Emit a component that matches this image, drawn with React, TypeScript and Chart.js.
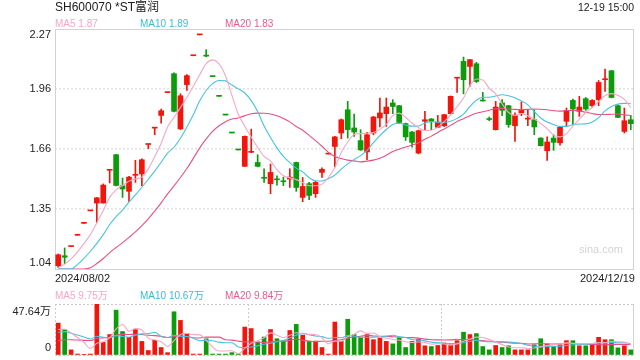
import React, { useEffect, useRef } from "react";
import { Chart, registerables } from "chart.js";

Chart.register(...registerables);

const FONT = "Arial, 'Liberation Sans', 'Noto Sans CJK SC', sans-serif";
const RED = "#f3150b";
const GREEN = "#0b9b0b";
const MA5_COLOR = "#f8a6c6";
const MA10_COLOR = "#45c3e0";
const MA20_COLOR = "#ea4f84";

const stockTitle = "SH600070 *ST富润";
const timeLabel = "12-19 15:00";

const categories = [
  "2024/08/02", "2024/08/05", "2024/08/06", "2024/08/07", "2024/08/08", "2024/08/09",
  "2024/08/12", "2024/08/13", "2024/08/14", "2024/08/15", "2024/08/16",
  "2024/08/19", "2024/08/20", "2024/08/21", "2024/08/22", "2024/08/23",
  "2024/08/26", "2024/08/27", "2024/08/28", "2024/08/29", "2024/08/30",
  "2024/09/02", "2024/09/03", "2024/09/04", "2024/09/05", "2024/09/06",
  "2024/09/09", "2024/09/10", "2024/09/11", "2024/09/12", "2024/09/13",
  "2024/09/18", "2024/09/19", "2024/09/20",
  "2024/09/23", "2024/09/24", "2024/09/25", "2024/09/26", "2024/09/27",
  "2024/09/30",
  "2024/10/11",
  "2024/10/14", "2024/10/15", "2024/10/16", "2024/10/17", "2024/10/18",
  "2024/10/21", "2024/10/22", "2024/10/23", "2024/10/24", "2024/10/25",
  "2024/10/28", "2024/10/29", "2024/10/30", "2024/10/31",
  "2024/11/01", "2024/11/04", "2024/11/05", "2024/11/06", "2024/11/07", "2024/11/08",
  "2024/11/11", "2024/11/12", "2024/11/13", "2024/11/14", "2024/11/15",
  "2024/11/18", "2024/11/19", "2024/11/20", "2024/11/21", "2024/11/22",
  "2024/11/25", "2024/11/26", "2024/11/27", "2024/11/28", "2024/11/29",
  "2024/12/02", "2024/12/03", "2024/12/04", "2024/12/05", "2024/12/06",
  "2024/12/09", "2024/12/10", "2024/12/11", "2024/12/12", "2024/12/13",
  "2024/12/16", "2024/12/17", "2024/12/18", "2024/12/19",
];

const openPrices = [
  1.057, 1.108, 1.155, 1.213, 1.274, 1.338, 1.378, 1.378, 1.546, 1.626,
  1.467, 1.438, 1.520, 1.527, 1.678, 1.762, 1.827, 1.944, 2.041, 1.758,
  1.985, 2.133, 2.240, 2.135, 2.028, 1.927, 1.831, 1.739, 1.652, 1.566,
  1.638, 1.586, 1.509, 1.477, 1.500, 1.489, 1.501, 1.586, 1.407, 1.477,
  1.426, 1.535, 1.629, 1.668, 1.737, 1.856, 1.763, 1.698, 1.640, 1.737,
  1.814, 1.836, 1.891, 1.877, 1.785, 1.742, 1.634, 1.797, 1.809, 1.766,
  1.774, 1.836, 2.018, 2.104, 2.078, 2.092, 1.903, 1.808, 1.754, 1.891,
  1.877, 1.774, 1.840, 1.808, 1.805, 1.711, 1.646, 1.711, 1.687, 1.797,
  1.904, 1.848, 1.913, 1.877, 1.908, 2.010, 2.056, 1.877, 1.745, 1.805,
];
const highPrices = [
  1.117, 1.148, 1.155, 1.213, 1.274, 1.338, 1.407, 1.476, 1.549, 1.626,
  1.506, 1.515, 1.597, 1.605, 1.680, 1.764, 1.860, 1.944, 2.045, 1.938,
  2.036, 2.133, 2.240, 2.164, 2.028, 1.927, 1.831, 1.739, 1.652, 1.722,
  1.757, 1.626, 1.554, 1.578, 1.518, 1.511, 1.554, 1.588, 1.509, 1.484,
  1.489, 1.558, 1.629, 1.720, 1.809, 1.899, 1.834, 1.754, 1.740, 1.822,
  1.916, 1.916, 1.908, 1.879, 1.788, 1.745, 1.752, 1.848, 1.811, 1.827,
  1.833, 1.927, 2.021, 2.126, 2.115, 2.099, 1.945, 1.819, 1.899, 1.908,
  1.879, 1.840, 1.896, 1.856, 1.856, 1.713, 1.717, 1.728, 1.771, 1.865,
  1.911, 1.925, 1.919, 1.908, 2.006, 2.065, 2.058, 1.882, 1.865, 1.827,
];
const lowPrices = [
  1.048, 1.067, 1.155, 1.213, 1.274, 1.338, 1.279, 1.378, 1.481, 1.466,
  1.407, 1.386, 1.484, 1.467, 1.657, 1.728, 1.788, 1.944, 1.845, 1.755,
  1.955, 2.133, 2.240, 2.128, 2.026, 1.925, 1.829, 1.737, 1.650, 1.566,
  1.636, 1.564, 1.484, 1.426, 1.469, 1.467, 1.458, 1.438, 1.385, 1.395,
  1.407, 1.509, 1.629, 1.563, 1.708, 1.711, 1.720, 1.648, 1.600, 1.728,
  1.768, 1.771, 1.836, 1.785, 1.699, 1.665, 1.630, 1.754, 1.754, 1.764,
  1.770, 1.834, 1.945, 1.938, 1.976, 1.996, 1.901, 1.800, 1.752, 1.826,
  1.766, 1.694, 1.826, 1.774, 1.728, 1.670, 1.597, 1.648, 1.675, 1.774,
  1.780, 1.822, 1.853, 1.870, 1.877, 1.950, 1.917, 1.815, 1.737, 1.754,
];
const closePrices = [
  1.113, 1.100, 1.155, 1.213, 1.274, 1.338, 1.405, 1.470, 1.549, 1.468,
  1.450, 1.511, 1.525, 1.600, 1.680, 1.764, 1.851, 1.944, 1.848, 1.928,
  2.031, 2.133, 2.240, 2.131, 2.026, 1.925, 1.829, 1.737, 1.650, 1.720,
  1.642, 1.566, 1.505, 1.535, 1.497, 1.487, 1.511, 1.458, 1.463, 1.417,
  1.484, 1.551, 1.629, 1.717, 1.805, 1.754, 1.742, 1.650, 1.728, 1.819,
  1.840, 1.870, 1.873, 1.791, 1.717, 1.689, 1.749, 1.805, 1.797, 1.793,
  1.831, 1.925, 2.021, 2.010, 2.113, 2.001, 1.901, 1.806, 1.870, 1.853,
  1.780, 1.827, 1.853, 1.810, 1.768, 1.672, 1.691, 1.689, 1.766, 1.853,
  1.860, 1.870, 1.860, 1.904, 1.996, 2.014, 1.919, 1.817, 1.800, 1.785,
];

const ma5 = [
  1.047, 1.065, 1.092, 1.128, 1.171, 1.216, 1.277, 1.340, 1.407, 1.446,
  1.468, 1.490, 1.501, 1.511, 1.553, 1.616, 1.684, 1.768, 1.817, 1.867,
  1.920, 1.977, 2.036, 2.093, 2.112, 2.091, 2.030, 1.930, 1.833, 1.772,
  1.716, 1.663, 1.617, 1.594, 1.549, 1.518, 1.507, 1.498, 1.483, 1.467,
  1.467, 1.475, 1.509, 1.560, 1.637, 1.691, 1.729, 1.734, 1.736, 1.739,
  1.756, 1.781, 1.826, 1.839, 1.818, 1.788, 1.764, 1.750, 1.751, 1.767,
  1.795, 1.830, 1.873, 1.916, 1.980, 2.014, 2.009, 1.966, 1.938, 1.886,
  1.842, 1.827, 1.837, 1.825, 1.808, 1.786, 1.759, 1.726, 1.717, 1.734,
  1.772, 1.808, 1.842, 1.869, 1.898, 1.929, 1.939, 1.930, 1.909, 1.867,
];
const ma10 = [
  1.040, 1.040, 1.040, 1.064, 1.095, 1.131, 1.171, 1.216, 1.268, 1.309,
  1.342, 1.383, 1.420, 1.459, 1.500, 1.542, 1.587, 1.634, 1.664, 1.710,
  1.768, 1.830, 1.902, 1.955, 1.990, 2.006, 2.004, 1.983, 1.963, 1.942,
  1.903, 1.847, 1.773, 1.714, 1.661, 1.617, 1.585, 1.557, 1.538, 1.508,
  1.492, 1.491, 1.503, 1.521, 1.552, 1.579, 1.602, 1.621, 1.648, 1.688,
  1.724, 1.755, 1.780, 1.787, 1.778, 1.772, 1.773, 1.788, 1.795, 1.792,
  1.792, 1.797, 1.812, 1.834, 1.873, 1.905, 1.920, 1.920, 1.927, 1.933,
  1.928, 1.918, 1.901, 1.881, 1.847, 1.814, 1.793, 1.781, 1.771, 1.771,
  1.779, 1.783, 1.784, 1.793, 1.816, 1.850, 1.873, 1.886, 1.889, 1.887,
];
const ma20 = [
  1.040, 1.040, 1.040, 1.040, 1.040, 1.046, 1.068, 1.094, 1.124, 1.150,
  1.175, 1.202, 1.230, 1.262, 1.297, 1.337, 1.379, 1.425, 1.466, 1.509,
  1.555, 1.607, 1.661, 1.707, 1.745, 1.774, 1.795, 1.809, 1.814, 1.826,
  1.836, 1.839, 1.838, 1.834, 1.825, 1.811, 1.794, 1.770, 1.751, 1.725,
  1.698, 1.669, 1.638, 1.617, 1.606, 1.598, 1.594, 1.589, 1.593, 1.598,
  1.608, 1.623, 1.642, 1.654, 1.665, 1.675, 1.687, 1.705, 1.721, 1.740,
  1.758, 1.776, 1.796, 1.810, 1.826, 1.838, 1.846, 1.854, 1.861, 1.863,
  1.860, 1.858, 1.857, 1.858, 1.860, 1.859, 1.856, 1.851, 1.849, 1.852,
  1.853, 1.851, 1.843, 1.837, 1.832, 1.832, 1.833, 1.834, 1.830, 1.827,
];

// volume in 万 (10k shares)
const volumes = [
  29.8, 23.8, 4.8, 0.9, 0.3, 0.9, 47.64, 11.8, 19.1, 41.9,
  21.9, 16.5, 23.8, 12.7, 4.2, 13.7, 7.0, 2.2, 40.4, 32.3,
  19.7, 0.9, 0.9, 15.2, 0.9, 0.9, 0.9, 2.2, 0.9, 26.1,
  24.7, 12.1, 16.8, 23.8, 15.2, 13.4, 22.9, 28.6, 18.5, 13.0,
  13.0, 7.0, 0.9, 30.8, 12.7, 33.4, 19.1, 16.5, 19.1, 14.3,
  15.9, 12.7, 10.4, 15.9, 7.0, 12.7, 14.9, 8.6, 7.9, 8.9,
  11.2, 9.5, 13.4, 21.3, 19.1, 20.0, 7.9, 4.8, 8.9, 7.0,
  8.6, 4.8, 4.8, 4.8, 9.5, 15.2, 10.4, 7.9, 9.5, 13.4,
  13.4, 8.6, 8.6, 10.1, 16.5, 14.3, 14.3, 6.7, 8.6, 4.8,
];
const volMa5 = [
  23.8, 24.1, 20.6, 16.3, 11.9, 6.1, 10.9, 12.3, 15.9, 24.3,
  28.5, 22.2, 24.6, 23.4, 15.8, 14.2, 12.3, 8.0, 13.5, 19.1,
  20.3, 19.1, 18.8, 13.8, 7.5, 3.8, 3.8, 4.0, 1.2, 6.2,
  11.0, 13.2, 16.1, 20.7, 18.5, 16.3, 18.4, 20.8, 19.7, 19.3,
  19.2, 16.0, 10.5, 12.9, 12.9, 17.0, 19.4, 22.5, 20.2, 20.5,
  17.0, 15.7, 14.5, 13.8, 12.4, 11.7, 12.2, 11.8, 10.2, 10.6,
  10.3, 9.2, 10.2, 12.9, 14.9, 16.7, 16.3, 14.6, 12.1, 9.7,
  7.4, 6.8, 6.8, 6.0, 6.5, 7.8, 8.9, 9.6, 10.5, 11.3,
  10.9, 10.6, 10.7, 10.8, 11.4, 11.6, 12.8, 12.4, 12.1, 9.75,
];
const volMa10 = [
  21.3, 21.8, 20.4, 18.6, 16.8, 15.0, 17.5, 16.5, 16.1, 18.1,
  17.3, 16.6, 18.5, 19.7, 20.0, 21.3, 17.3, 16.3, 18.4, 17.5,
  17.3, 15.7, 13.4, 13.7, 13.3, 12.0, 11.4, 11.4, 7.5, 6.9,
  7.4, 8.5, 10.1, 10.9, 12.4, 13.6, 15.8, 18.5, 20.2, 18.9,
  17.7, 17.2, 15.6, 16.3, 16.1, 18.1, 17.7, 16.5, 16.6, 16.7,
  17.0, 17.5, 18.5, 17.0, 16.4, 14.4, 13.9, 13.2, 12.0, 11.5,
  11.0, 10.7, 11.0, 11.5, 12.8, 13.5, 12.8, 12.4, 12.5, 12.3,
  12.1, 11.6, 10.7, 9.1, 8.1, 7.6, 7.9, 8.2, 8.3, 8.9,
  9.4, 9.8, 10.1, 10.7, 11.4, 11.3, 11.7, 11.5, 11.5, 10.67,
];
const volMa20 = [
  13.3, 14.2, 14.2, 14.0, 13.7, 13.5, 15.6, 16.0, 16.6, 18.5,
  19.3, 19.2, 19.4, 19.1, 18.4, 18.1, 17.4, 16.4, 17.3, 17.8,
  17.3, 16.1, 15.9, 16.7, 16.7, 16.7, 14.3, 13.9, 13.0, 12.2,
  12.3, 12.1, 11.7, 12.3, 12.8, 12.8, 13.6, 14.9, 13.8, 12.9,
  12.5, 12.9, 12.9, 13.6, 14.2, 15.8, 16.8, 17.5, 18.4, 17.8,
  17.4, 17.4, 17.1, 16.7, 16.3, 16.2, 15.8, 14.8, 14.3, 14.1,
  14.0, 14.1, 14.7, 14.3, 14.6, 13.9, 13.4, 12.8, 12.3, 11.9,
  11.5, 11.1, 10.9, 10.3, 10.4, 10.6, 10.3, 10.3, 10.4, 10.6,
  10.7, 10.7, 10.4, 9.9, 9.7, 9.5, 9.8, 9.9, 9.9, 9.84,
];

const priceTickValues = [1.04, 1.3475, 1.655, 1.9625, 2.27];
const priceTickLabels = ["1.04", "1.35", "1.66", "1.96", "2.27"];
const volumeTickValues = [0, 47.64];
const volumeTickLabels = ["0", "47.64万"];
const volumeDividers = [0, 30, 60];

function App() {
  const mainRef = useRef<HTMLCanvasElement>(null);
  const volRef = useRef<HTMLCanvasElement>(null);

  useEffect(() => {
    const candleColors = categories.map((_, i) =>
      closePrices[i] >= openPrices[i] ? RED : GREEN
    );
    const last = priceTickValues.length - 1;

    const mainDecor = {
      id: "mainDecor",
      beforeDatasetsDraw(chart: any) {
        const { ctx, chartArea: a } = chart;
        ctx.save();
        ctx.strokeStyle = "#d2d2d2";
        ctx.lineWidth = 1;
        ctx.strokeRect(a.left + 0.5, a.top + 0.5, a.right - a.left - 1, a.bottom - a.top);
        ctx.restore();
      },
      afterDraw(chart: any) {
        const { ctx, chartArea: a, scales } = chart;
        ctx.save();
        ctx.font = `11px ${FONT}`;
        ctx.fillStyle = "#222";
        ctx.textAlign = "right";
        ctx.textBaseline = "middle";
        priceTickValues.forEach((v, i) => {
          let py = scales.y.getPixelForValue(v);
          if (i === 0) py -= 6;
          if (i === last) py += 6;
          ctx.fillText(priceTickLabels[i], a.left - 4, py);
        });
        ctx.restore();
      },
    };

    const volDecor = {
      id: "volDecor",
      beforeDatasetsDraw(chart: any) {
        const { ctx, chartArea: a } = chart;
        ctx.save();
        ctx.strokeStyle = "#d2d2d2";
        ctx.lineWidth = 1;
        ctx.beginPath();
        ctx.moveTo(a.right - 0.5, a.top);
        ctx.lineTo(a.right - 0.5, a.bottom);
        ctx.stroke();
        ctx.restore();
      },
      afterDraw(chart: any) {
        const { ctx, chartArea: a, scales } = chart;
        ctx.save();
        ctx.font = `11px ${FONT}`;
        ctx.fillStyle = "#222";
        ctx.textAlign = "right";
        ctx.textBaseline = "middle";
        volumeTickValues.forEach((v, i) => {
          let py = scales.y.getPixelForValue(v);
          if (i === 0) py -= 7;
          else py += 7.5;
          ctx.fillText(volumeTickLabels[i], a.left - 4, py);
        });
        ctx.restore();
      },
    };

    const lineDs = (label: string, data: number[], color: string) => ({
      type: "line" as const,
      label,
      data,
      borderColor: color,
      borderWidth: 1.1,
      pointRadius: 0,
      fill: false,
      cubicInterpolationMode: "monotone" as const,
      order: 0,
    });

    const main = new Chart(mainRef.current!, {
      type: "bar",
      data: {
        labels: categories,
        datasets: [
          lineDs("MA5", ma5, MA5_COLOR),
          lineDs("MA10", ma10, MA10_COLOR),
          lineDs("MA20", ma20, MA20_COLOR),
          {
            type: "bar",
            label: "body",
            data: categories.map((_, i) => [openPrices[i], closePrices[i]]),
            backgroundColor: candleColors,
            barThickness: 5,
            minBarLength: 1,
            grouped: false,
            borderWidth: 0,
            order: 1,
          } as any,
          {
            type: "bar",
            label: "wick",
            data: categories.map((_, i) => [lowPrices[i], highPrices[i]]),
            backgroundColor: candleColors,
            barThickness: 1,
            grouped: false,
            borderWidth: 0,
            order: 2,
          } as any,
        ],
      },
      options: {
        responsive: false,
        animation: false,
        events: [],
        layout: { padding: { left: 55, right: 6, top: 29, bottom: 31 } },
        plugins: { legend: { display: false }, tooltip: { enabled: false } },
        scales: {
          x: {
            type: "category",
            display: false,
            offset: true,
          },
          y: {
            min: priceTickValues[0],
            max: priceTickValues[last],
            afterBuildTicks: (s: any) => {
              s.ticks = priceTickValues.map((v) => ({ value: v }));
            },
            afterFit: (s: any) => {
              s.width = 0;
            },
            ticks: { display: false },
            border: { display: false, dash: [2, 2] },
            grid: {
              drawTicks: false,
              lineWidth: 1.5,
              color: (c: any) =>
                c.index === 0 || c.index === last ? "rgba(0,0,0,0)" : "#e2e2e2",
            },
          },
        },
      },
      plugins: [mainDecor],
    });

    const vol = new Chart(volRef.current!, {
      type: "bar",
      data: {
        labels: categories,
        datasets: [
          lineDs("MA5", volMa5, MA5_COLOR),
          lineDs("MA10", volMa10, MA10_COLOR),
          lineDs("MA20", volMa20, MA20_COLOR),
          {
            type: "bar",
            label: "volume",
            data: volumes,
            backgroundColor: candleColors,
            barThickness: 4,
            borderWidth: 0,
            order: 1,
          } as any,
        ],
      },
      options: {
        responsive: false,
        animation: false,
        events: [],
        layout: { padding: { left: 55, right: 6, top: 14, bottom: 5 } },
        plugins: { legend: { display: false }, tooltip: { enabled: false } },
        scales: {
          x: {
            type: "category",
            offset: true,
            afterFit: (s: any) => {
              s.height = 0;
            },
            ticks: { display: false },
            border: { display: false, dash: [2, 2] },
            grid: {
              drawTicks: false,
              offset: true,
              lineWidth: 1,
              color: (c: any) =>
                volumeDividers.includes(c.index) ? "#cccccc" : "rgba(0,0,0,0)",
            },
          },
          y: {
            min: volumeTickValues[0],
            max: volumeTickValues[1],
            afterBuildTicks: (s: any) => {
              s.ticks = volumeTickValues.map((v) => ({ value: v }));
            },
            afterFit: (s: any) => {
              s.width = 0;
            },
            ticks: { display: false },
            border: { display: false, dash: [2, 2] },
            grid: { drawTicks: false, lineWidth: 1, color: "#cccccc" },
          },
        },
      },
      plugins: [volDecor],
    });

    return () => {
      main.destroy();
      vol.destroy();
    };
  }, []);

  const n = categories.length - 1;
  const txt = (style: React.CSSProperties, content: React.ReactNode) => (
    <div style={{ position: "absolute", whiteSpace: "nowrap", ...style }}>{content}</div>
  );

  return (
    <div
      style={{
        position: "fixed",
        left: 0,
        top: 0,
        width: 640,
        height: 360,
        background: "#fff",
        fontFamily: FONT,
        overflow: "hidden",
      }}
    >
      <canvas
        ref={mainRef}
        width={640}
        height={300}
        style={{ position: "absolute", left: 0, top: 0, width: 640, height: 300 }}
      />
      <canvas
        ref={volRef}
        width={640}
        height={70}
        style={{ position: "absolute", left: 0, top: 290, width: 640, height: 70 }}
      />
      {txt({ left: 55, top: 0, fontSize: 12, lineHeight: "15px", color: "#1a1a1a" }, stockTitle)}
      {txt({ right: 6, top: 1, fontSize: 10.5, lineHeight: "13px", color: "#222" }, timeLabel)}
      {txt({ left: 55, top: 18, fontSize: 10, lineHeight: "12px", color: MA5_COLOR }, `MA5 ${ma5[n].toFixed(2)}`)}
      {txt({ left: 140, top: 18, fontSize: 10, lineHeight: "12px", color: "#3dbad9" }, `MA10 ${ma10[n].toFixed(2)}`)}
      {txt({ left: 225, top: 18, fontSize: 10, lineHeight: "12px", color: "#ec5a8c" }, `MA20 ${ma20[n].toFixed(2)}`)}
      {txt({ left: 55, top: 272, fontSize: 11, lineHeight: "12px", color: "#222" }, categories[0])}
      {txt({ right: 5, top: 272, fontSize: 11, lineHeight: "12px", color: "#222" }, categories[n])}
      {txt({ right: 17, top: 243, fontSize: 11, lineHeight: "12px", color: "#d4d4d4" }, "sina.com")}
      {txt({ left: 55, top: 290, fontSize: 10, lineHeight: "12px", color: MA5_COLOR }, `MA5 ${volMa5[n].toFixed(2)}万`)}
      {txt({ left: 140, top: 290, fontSize: 10, lineHeight: "12px", color: "#3dbad9" }, `MA10 ${volMa10[n].toFixed(2)}万`)}
      {txt({ left: 225, top: 290, fontSize: 10, lineHeight: "12px", color: "#ec5a8c" }, `MA20 ${volMa20[n].toFixed(2)}万`)}
    </div>
  );
}

export default App;
